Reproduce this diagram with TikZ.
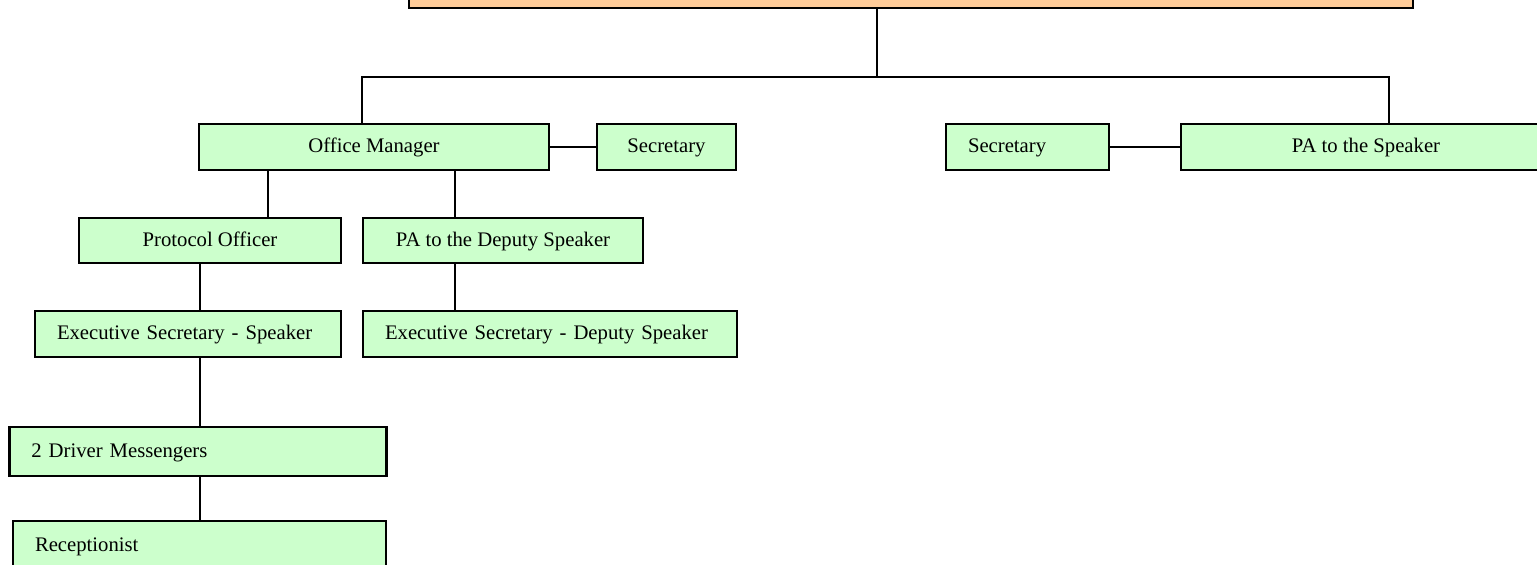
\documentclass[tikz,border=0pt]{standalone}
\usepackage{fontspec}
\setmainfont{Liberation Serif}
\definecolor{boxgreen}{RGB}{204,255,204}
\definecolor{headorange}{RGB}{255,204,153}
\usetikzlibrary{positioning}

\begin{document}
\begin{tikzpicture}[
      x=0.5pt, y=-0.5pt,
      box/.style={draw=black, line width=1.3pt, fill=boxgreen, inner sep=0pt,
                  font=\fontsize{10.35}{12}\selectfont, align=center,
                  text height=6pt, text depth=0pt},
      lbox/.style={box, align=left, inner xsep=11pt},
      head/.style={draw=black, line width=1.3pt, fill=headorange, inner sep=0pt},
      link/.style={line width=1pt, black}
    ]
    \useasboundingbox (0,0) rectangle (1537,565);
    \clip (0,0) rectangle (1537,565);
    \node[head, minimum width=502pt, minimum height=34pt] (top) at (911,-26) {};
    \node[box, minimum width=175pt, minimum height=23pt] (om) at (374,147) {Office Manager};
    \node[box, minimum width=69.5pt, minimum height=23pt] (sec) at (666.5,147) {Secretary};
    \node[lbox, text width=59.5pt, minimum height=23pt] (secb) at (1027.5,147) {Secretary};
    \node[box, minimum width=185pt, minimum height=23pt] (pa) at (1366,147) {PA to the Speaker};
    \node[box, minimum width=131pt, minimum height=22.5pt] (po) at (210,240.5) {Protocol Officer};
    \node[box, minimum width=140pt, minimum height=22.5pt] (pad) at (503,240.5) {PA to the Deputy Speaker};
    \node[lbox, text width=131pt, minimum height=23pt] (es) at (188,334) {Executive Secretary - Speaker};
    \node[lbox, text width=165pt, minimum height=23pt] (esd) at (550,334) {Executive Secretary - Deputy Speaker};
    \node[lbox, text width=166.5pt, minimum height=24.5pt] (dm) at (198,451.5) {2 Driver Messengers};
    \node[lbox, text width=164.5pt, minimum height=24.5pt] (rec) at (199.5,545.5) {Receptionist};
    \coordinate (dTop) at (877,0);
    \coordinate (busL) at (362,77);
    \coordinate (busR) at (1389,77);
    \coordinate (dPO) at (268,0);
    \coordinate (dPD) at (455,0);
    \coordinate (dES) at (200,0);
    \draw[link] (top.south -| dTop) -- (dTop |- busL);
    \draw[link] (om.north -| busL) -- (busL) -- (busR) -- (pa.north -| busR);
    \draw[link] (om.east) -- (sec.west);
    \draw[link] (secb.east) -- (pa.west);
    \draw[link] (om.south -| dPO) -- (po.north -| dPO);
    \draw[link] (om.south -| dPD) -- (pad.north -| dPD);
    \draw[link] (po.south -| dES) -- (es.north -| dES);
    \draw[link] (pad.south -| dPD) -- (esd.north -| dPD);
    \draw[link] (es.south -| dES) -- (dm.north -| dES);
    \draw[link] (dm.south -| dES) -- (rec.north -| dES);
  \end{tikzpicture}
\end{document}
